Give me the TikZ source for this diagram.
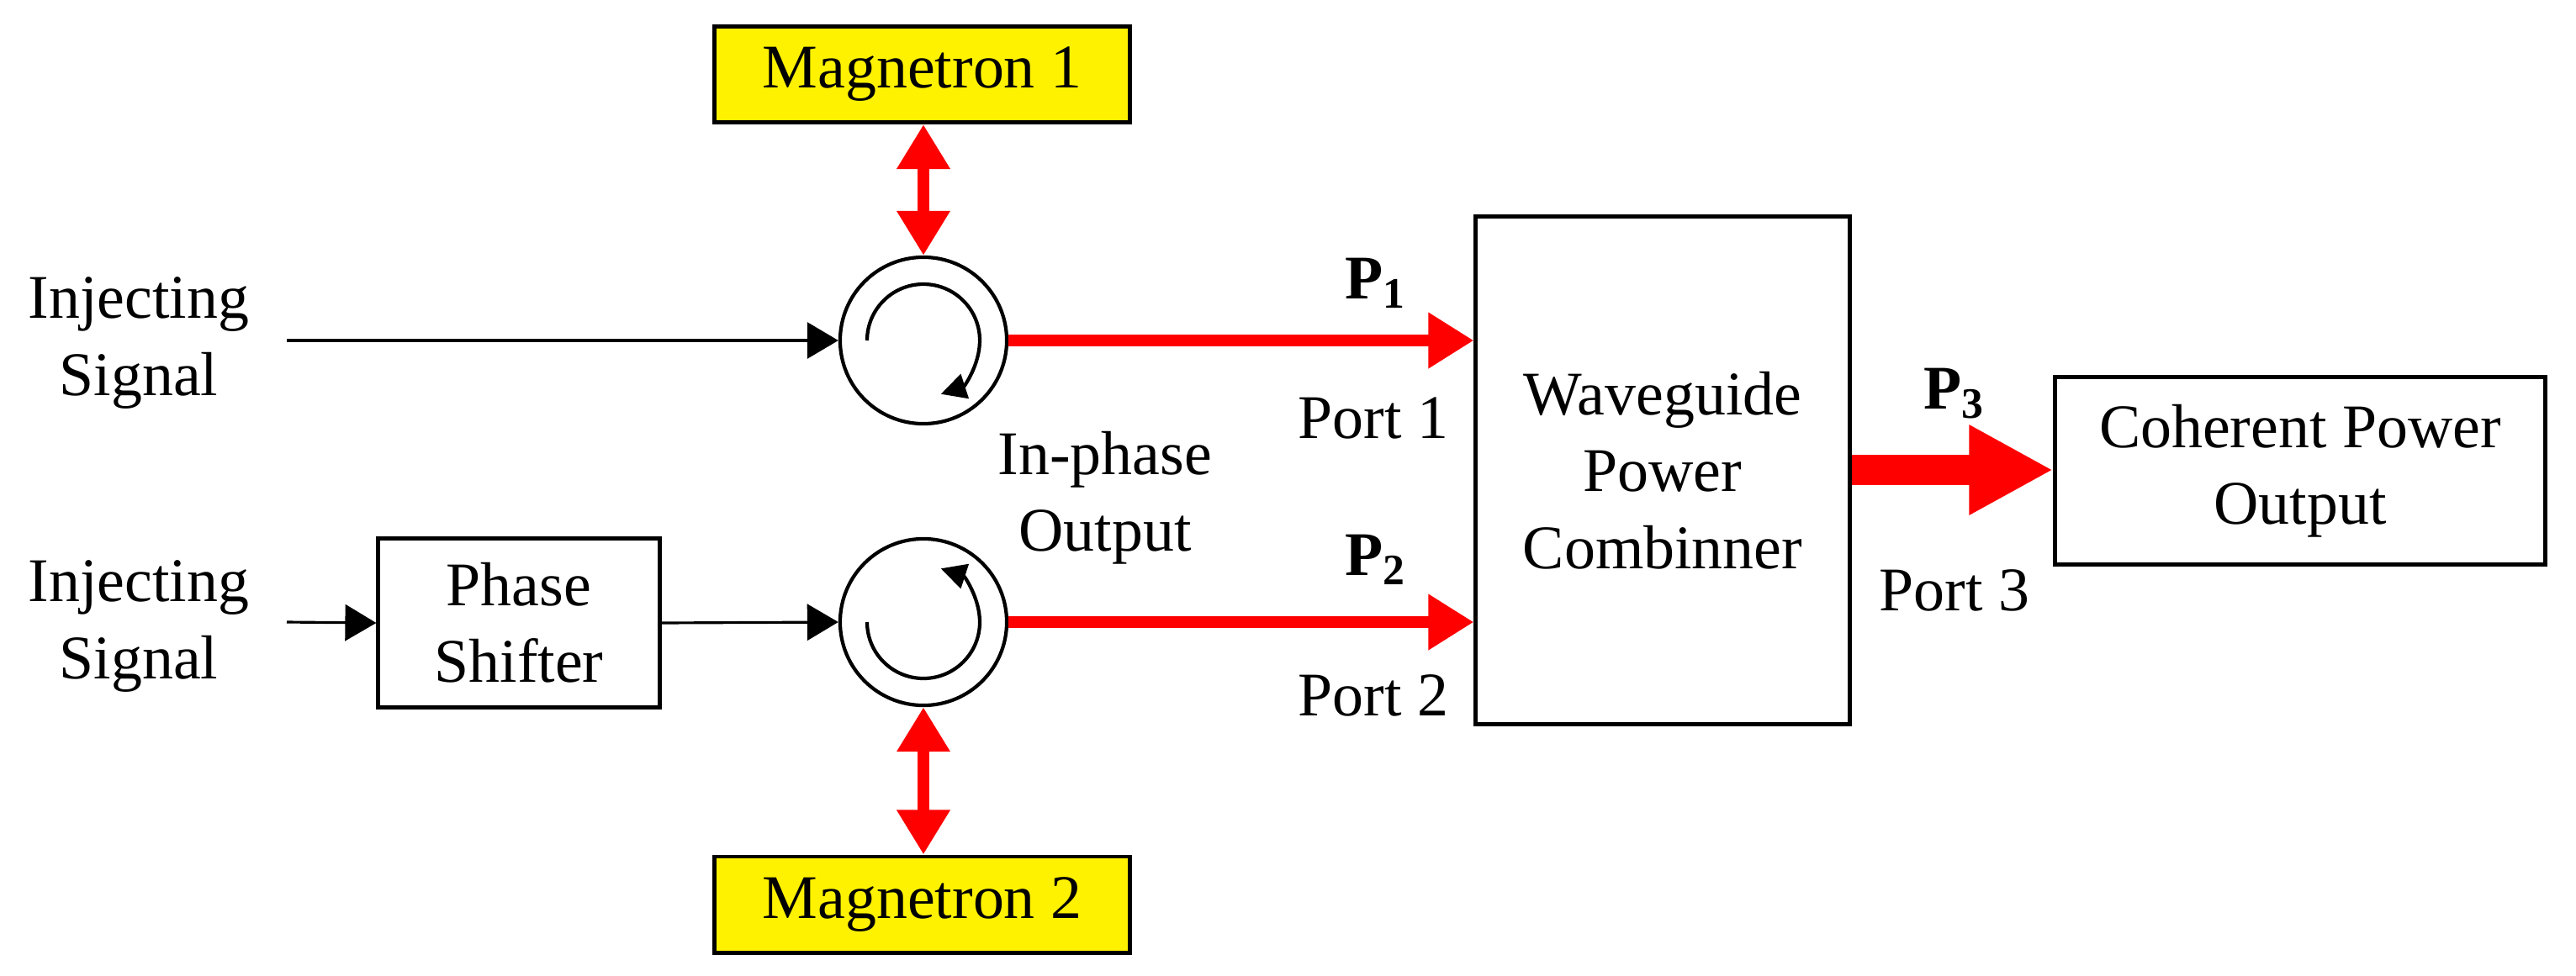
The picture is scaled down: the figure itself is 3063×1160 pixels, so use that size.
\documentclass[tikz,border=0pt]{standalone}
\usepackage{fontspec}
\setmainfont{Liberation Serif}
\usetikzlibrary{arrows.meta}

\begin{document}
\begin{tikzpicture}[x=0.01cm,y=-0.01cm,font=\fontsize{21}{26}\selectfont,
  blk/.style={draw,line width=1.4pt,align=center,inner sep=0pt},
  mag/.style={blk,fill=yellow,minimum width=4.93cm,minimum height=1.14cm},
  circ/.style={draw,circle,line width=1.2pt,minimum size=1.98cm,inner sep=0pt},
  sig/.style={line width=0.9pt,-{Triangle[length=0.37cm,width=0.43cm]}},
  pwr/.style={red,line width=4.2pt,-{Triangle[length=0.54cm,width=0.63cm]}},
  bid/.style={red,line width=4.2pt,{Triangle[length=0.53cm,width=0.6cm]}-{Triangle[length=0.53cm,width=0.6cm]}},
  lbl/.style={align=center,inner sep=0pt}]
 \useasboundingbox (0,0) rectangle (3063,1160);
 % blocks
 \node[mag] (mag1) at (1096.5,88.5) {Magnetron 1};
 \node[mag] (mag2) at (1096.5,1076) {Magnetron 2};
 \node[blk,minimum width=3.34cm,minimum height=2cm] (shift) at (617,741) {Phase\\Shifter};
 \node[blk,minimum width=4.44cm,minimum height=6.03cm] (comb) at (1977,559.5) {Waveguide\\Power\\Combinner};
 \node[blk,minimum width=5.82cm,minimum height=2.22cm] (out) at (2735,560) {Coherent Power\\Output};
 % circulators
 \node[circ] (circ1) at (1098,405) {};
 \node[circ] (circ2) at (1098,740) {};
 \draw[line width=1.2pt,-{Triangle[length=0.3cm,width=0.3cm]}] ([shift={(180:67)}]circ1.center) arc[start angle=180,end angle=432,radius=67];
 \draw[line width=1.2pt,-{Triangle[length=0.3cm,width=0.3cm]}] ([shift={(180:67)}]circ2.center) arc[start angle=180,end angle=-72,radius=67];
 % inputs
 \node[lbl] (inj1) at (165,408) {Injecting\\Signal};
 \node[lbl] (inj2) at (165,745) {Injecting\\Signal};
 \coordinate (in1) at (341,405);
 \coordinate (in2) at (341,740);
 \draw[sig] (in1) -- (circ1.west);
 \draw[sig] (in2) -- (shift.west);
 \draw[sig] (shift.east) -- (circ2.west);
 % power paths
 \draw[bid] (circ1.north) -- (mag1.south -| circ1.north);
 \draw[bid] (circ2.south) -- (mag2.north -| circ2.south);
 \draw[pwr] (circ1.east) -- (comb.west |- circ1.east);
 \draw[pwr] (circ2.east) -- (comb.west |- circ2.east);
 \draw[red,line width=10.5pt,-{Triangle[length=1cm,width=1cm]}] (comb.east |- 0,559) -- (out.west |- 0,559);
 % labels
 \node[lbl] (p1) at (1636,337) {\textbf{P\textsubscript{1}}};
 \node[lbl] (p2) at (1636,666) {\textbf{P\textsubscript{2}}};
 \node[lbl] (p3) at (2324,468) {\textbf{P\textsubscript{3}}};
 \node[lbl] (port1) at (1633,497) {Port 1};
 \node[lbl] (port2) at (1633,827) {Port 2};
 \node[lbl] (port3) at (2324,702) {Port 3};
 \node[lbl] (inph) at (1314,592) {In-phase\\Output};
\end{tikzpicture}
\end{document}
